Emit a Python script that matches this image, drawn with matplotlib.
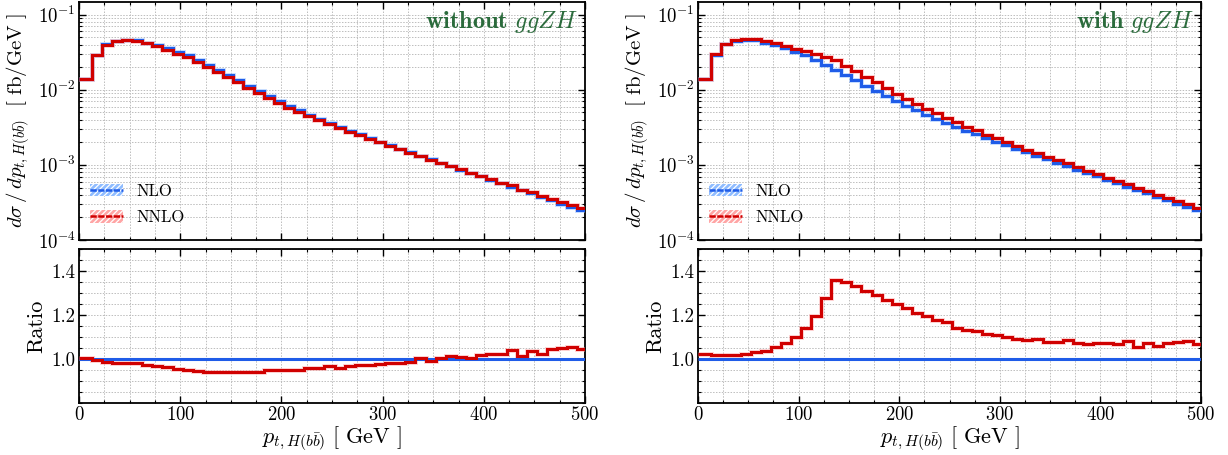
import numpy as np
import matplotlib
matplotlib.use("Agg")
import matplotlib.pyplot as plt
from matplotlib.patches import Patch
from matplotlib.lines import Line2D
from matplotlib.ticker import MultipleLocator, FixedLocator, FormatStrFormatter, LogLocator, NullFormatter

plt.rcParams['font.family'] = 'serif'
plt.rcParams['font.serif'] = ['cmr10', 'DejaVu Serif']
plt.rcParams['mathtext.fontset'] = 'cm'
plt.rcParams['axes.unicode_minus'] = False
plt.rcParams['axes.formatter.use_mathtext'] = True
plt.rcParams['hatch.linewidth'] = 0.9

# ---------------- data ----------------
bin_edges = [0.0] + [12.5 + 10.0 * k for k in range(49)] + [500.0]

nlo = [0.0138, 0.0294, 0.0403, 0.0450, 0.0467, 0.0459, 0.0427, 0.0394, 0.0357, 0.0316,
       0.0288, 0.0251, 0.0214, 0.0184, 0.0156, 0.0134, 0.0114, 0.00973, 0.00832, 0.00700,
       0.00610, 0.00533, 0.00468, 0.00412, 0.00363, 0.00322, 0.00286, 0.00255, 0.00228, 0.00204,
       0.00183, 0.00164, 0.00147, 0.00132, 0.00119, 0.001074, 0.000966, 0.000869, 0.000782, 0.000703,
       0.000632, 0.000570, 0.000514, 0.000463, 0.000418, 0.000377, 0.000340, 0.000306, 0.000276, 0.000252]

ratio_without = [1.003, 0.994, 0.988, 0.982, 0.982, 0.982, 0.973, 0.967, 0.963, 0.954,
                 0.952, 0.945, 0.940, 0.940, 0.940, 0.940, 0.939, 0.943, 0.948, 0.951,
                 0.952, 0.952, 0.958, 0.960, 0.966, 0.961, 0.966, 0.972, 0.972, 0.978,
                 0.981, 0.982, 0.985, 1.003, 0.991, 1.003, 1.013, 1.010, 1.006, 1.018,
                 1.022, 1.021, 1.043, 1.015, 1.037, 1.025, 1.045, 1.051, 1.054, 1.045]

ratio_with = [1.025, 1.018, 1.018, 1.018, 1.024, 1.033, 1.037, 1.054, 1.072, 1.099,
              1.143, 1.197, 1.278, 1.360, 1.348, 1.330, 1.307, 1.290, 1.269, 1.251,
              1.230, 1.210, 1.197, 1.176, 1.169, 1.143, 1.134, 1.128, 1.112, 1.107,
              1.101, 1.093, 1.087, 1.093, 1.076, 1.079, 1.087, 1.075, 1.067, 1.073,
              1.072, 1.069, 1.084, 1.055, 1.072, 1.060, 1.072, 1.076, 1.082, 1.069]

panel_titles = [r"$\mathbf{without}\ ggZH$", r"$\mathbf{with}\ ggZH$"]
series_labels = ["NLO", "NNLO"]

# ---------------- style ----------------
c_nlo = '#1f5ce8'
c_nnlo = '#d00000'
c_nlo_band = '#8fbcff'
c_nnlo_band = '#ffa5a5'
green = '#2b6b3c'
grid_kw = dict(color='#bdbdbd', linestyle=(0, (1.5, 1.5)), linewidth=0.7)

fig = plt.figure(figsize=(12.28, 4.55), dpi=100)
W, H = 1228.0, 455.0
lefts = [79 / W, 698 / W]
widths = [506 / W, 503 / W]
top_y0, top_y1 = 1 - 240 / H, 1 - 2 / H
rat_y0, rat_y1 = 1 - 403 / H, 1 - 249 / H

edges = np.array(bin_edges)
nlo_arr = np.array(nlo)


def style_axis(ax):
    ax.tick_params(which='both', direction='in', top=True, right=True, labelsize=13.5)
    ax.tick_params(which='major', length=5, width=1.0, pad=2.5)
    ax.tick_params(which='minor', length=2.5, width=0.8)
    for s in ax.spines.values():
        s.set_linewidth(1.3)
    ax.grid(True, which='both', **grid_kw)
    ax.set_axisbelow(True)


def draw(ax, vals, color, band):
    ax.stairs(vals, edges, color=band, linewidth=3.6, alpha=0.45, baseline=None, zorder=3)
    ax.stairs(vals, edges, color=color, linewidth=2.2, baseline=None, zorder=4)


for i, ratio in enumerate([ratio_without, ratio_with]):
    ratio_arr = np.array(ratio)
    nnlo_arr = nlo_arr * ratio_arr

    axt = fig.add_axes([lefts[i], top_y0, widths[i], top_y1 - top_y0])
    axr = fig.add_axes([lefts[i], rat_y0, widths[i], rat_y1 - rat_y0])

    # top panel
    draw(axt, nlo_arr, c_nlo, c_nlo_band)
    draw(axt, nnlo_arr, c_nnlo, c_nnlo_band)
    axt.set_yscale('log')
    axt.set_ylim(1e-4, 0.148)
    axt.set_xlim(0, 500)
    axt.yaxis.set_major_locator(LogLocator(base=10, numticks=10))
    axt.yaxis.set_minor_locator(LogLocator(base=10, subs=np.arange(2, 10), numticks=20))
    axt.yaxis.set_minor_formatter(NullFormatter())
    axt.xaxis.set_major_locator(MultipleLocator(100))
    axt.xaxis.set_minor_locator(MultipleLocator(25))
    axt.tick_params(labelbottom=False)
    style_axis(axt)
    axt.set_ylabel(r"$d\sigma\,/\,dp_{t,H(b\bar{b})}\ \ [\ \mathrm{fb/GeV}\ ]$", fontsize=15)
    axt.text(0.985, 0.97, panel_titles[i], transform=axt.transAxes, ha='right', va='top',
             fontsize=17.5, color=green)

    h_nlo = (Patch(facecolor=c_nlo_band, edgecolor='white', hatch='//////', linewidth=0),
             Line2D([], [], color=c_nlo, linewidth=1.8, linestyle=(0, (2.5, 0.6))))
    h_nnlo = (Patch(facecolor=c_nnlo_band, edgecolor='white', hatch='//////', linewidth=0),
              Line2D([], [], color=c_nnlo, linewidth=1.8, linestyle=(0, (2.5, 0.6))))
    axt.legend([h_nlo, h_nnlo], series_labels, loc='lower left', bbox_to_anchor=(-0.008, 0.0),
               frameon=False, fontsize=12, handlelength=2.0, handleheight=0.8,
               labelspacing=0.65, handletextpad=0.8)

    # ratio panel
    axr.stairs(np.ones_like(nlo_arr), edges, color=c_nlo, linewidth=2.2, baseline=None, zorder=4)
    draw(axr, ratio_arr, c_nnlo, c_nnlo_band)
    axr.set_xlim(0, 500)
    axr.set_ylim(0.8, 1.5)
    axr.yaxis.set_major_locator(FixedLocator([1.0, 1.2, 1.4]))
    axr.yaxis.set_minor_locator(MultipleLocator(0.05))
    axr.yaxis.set_major_formatter(FormatStrFormatter('%.1f'))
    axr.xaxis.set_major_locator(MultipleLocator(100))
    axr.xaxis.set_minor_locator(MultipleLocator(25))
    style_axis(axr)
    axr.set_ylabel("Ratio", fontsize=16)
    axr.set_xlabel(r"$p_{t,H(b\bar{b})}\ [\ \mathrm{GeV}\ ]$", fontsize=16, labelpad=0)

fig.savefig("out.png", dpi=100)
